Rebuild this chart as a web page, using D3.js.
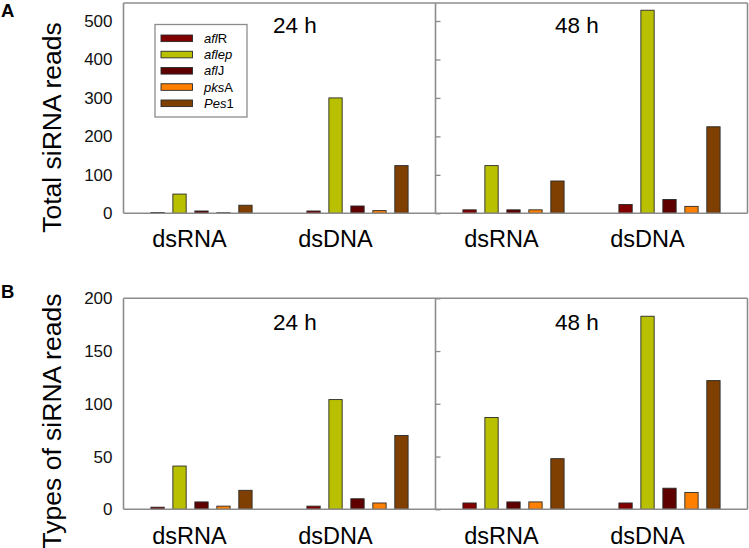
<!DOCTYPE html>
<html>
<head>
<meta charset="utf-8">
<script src="https://cdn.jsdelivr.net/npm/d3@7"></script>
<style>
  html, body { margin: 0; padding: 0; background: #fff; }
  svg { display: block; font-family: "Liberation Sans", Arial, sans-serif; }
</style>
</head>
<body>
<svg id="chart" width="749" height="548"></svg>
<script>
// ---------- data ----------
const genes = ["aflR", "aflep", "aflJ", "pksA", "Pes1"];
const geneItalicPart = ["afl", "aflep", "afl", "pks", "Pes"];
const geneRomanPart = ["R", "", "J", "A", "1"];
const geneColors = ["#800000", "#b9c000", "#5e0000", "#ff8000", "#7e3f00"];
const treatments = ["dsRNA", "dsDNA"];
const times = ["24 h", "48 h"];

// Total siRNA reads (panel A)
const totalReads24h_dsRNA = [2, 50, 6, 1.5, 21];
const totalReads24h_dsDNA = [6, 300, 19, 7, 124];
const totalReads48h_dsRNA = [9, 124, 9, 9, 84];
const totalReads48h_dsDNA = [23, 528, 36, 18, 225];
const totalTicks = [0, 100, 200, 300, 400, 500];

// Types of siRNA reads (panel B)
const typeReads24h_dsRNA = [2, 41, 7, 3, 18];
const typeReads24h_dsDNA = [3, 104, 10, 6, 70];
const typeReads48h_dsRNA = [6, 87, 7, 7, 48];
const typeReads48h_dsDNA = [6, 183, 20, 16, 122];
const typeTicks = [0, 50, 100, 150, 200];

// ---------- layout ----------
const svg = d3.select("#chart");
const plotLeft = 123.5, plotRight = 747.5;
const frameColor = "#8c8c8c";

const xPanel = d3.scaleBand().domain(times).range([plotLeft, plotRight]).padding(0);
const xGroup = d3.scaleBand().domain(treatments).range([0, xPanel.bandwidth()]).padding(0);
const xBar = d3.scaleBand().domain(genes).range([-50.6, 50.6]).paddingInner(0.395).paddingOuter(0);
const xLabel = d3.scalePoint().domain(treatments).range([66, 212]);

function drawPanel(cfg) {
  const g = svg.append("g");
  const y = d3.scaleLinear().domain(cfg.domain).range(cfg.range);
  const yTop = cfg.frameTop;
  const yBottom = y(0);

  // bars
  times.forEach((t, ti) => {
    treatments.forEach((tr, ri) => {
      const vals = cfg.data[ti][ri];
      const cx = xPanel(t) + xGroup(tr) + xGroup.bandwidth() / 2;
      g.selectAll(null).data(vals).enter().append("rect")
        .attr("x", (d, i) => cx + xBar(genes[i]))
        .attr("y", d => y(d))
        .attr("width", xBar.bandwidth())
        .attr("height", d => yBottom - y(d))
        .attr("fill", (d, i) => geneColors[i])
        .attr("stroke", "#2a2a2a")
        .attr("stroke-width", 0.9);
    });
  });

  // frame
  const fr = g.append("g").attr("stroke", frameColor).attr("stroke-width", 1.6).attr("fill", "none");
  fr.append("line").attr("x1", plotLeft).attr("x2", plotRight).attr("y1", yTop).attr("y2", yTop);
  fr.append("line").attr("x1", plotLeft).attr("x2", plotRight).attr("y1", yBottom).attr("y2", yBottom);
  fr.append("line").attr("x1", plotLeft).attr("x2", plotLeft).attr("y1", yTop).attr("y2", yBottom);
  fr.append("line").attr("x1", plotRight).attr("x2", plotRight).attr("y1", yTop).attr("y2", yBottom);

  // left axis labels
  const axL = g.append("g").attr("transform", `translate(${plotLeft},0)`)
    .call(d3.axisLeft(y).tickValues(cfg.ticks).tickSize(0).tickPadding(11).tickFormat(d3.format("d")));
  axL.select(".domain").remove();
  axL.selectAll("text").attr("font-size", 17).attr("fill", "#111")
    .attr("font-family", "'Liberation Sans', Arial, sans-serif");

  // divider with inner ticks
  const xDiv = xPanel(times[1]);
  const axD = g.append("g").attr("transform", `translate(${xDiv},0)`)
    .call(d3.axisRight(y).tickValues(cfg.ticks).tickSize(5).tickFormat(""));
  axD.select(".domain").remove();
  axD.selectAll("line").attr("stroke", frameColor).attr("stroke-width", 1.3);
  g.append("line").attr("x1", xDiv).attr("x2", xDiv).attr("y1", yTop).attr("y2", yBottom)
    .attr("stroke", frameColor).attr("stroke-width", 1.6);

  // time labels
  times.forEach((t, ti) => {
    g.append("text")
      .attr("x", xPanel(t) + cfg.timeOffsets[ti])
      .attr("y", cfg.timeBaseline)
      .attr("text-anchor", "middle")
      .attr("font-size", 22.5)
      .attr("fill", "#000")
      .text(t);
    treatments.forEach(tr => {
      g.append("text")
        .attr("x", xPanel(t) + xLabel(tr))
        .attr("y", cfg.catBaseline)
        .attr("text-anchor", "middle")
        .attr("font-size", 23.5)
        .attr("fill", "#000")
        .text(tr);
    });
  });

  // y title
  g.append("text")
    .attr("transform", `translate(61,${cfg.titleCenter}) rotate(-90)`)
    .attr("text-anchor", "middle")
    .attr("font-size", 26.5)
    .attr("fill", "#000")
    .text(cfg.title);

  // panel letter
  g.append("text")
    .attr("x", 1).attr("y", cfg.letterBaseline)
    .attr("font-size", 18.5).attr("font-weight", "bold")
    .attr("fill", "#000")
    .text(cfg.letter);
}

drawPanel({
  data: [[totalReads24h_dsRNA, totalReads24h_dsDNA], [totalReads48h_dsRNA, totalReads48h_dsDNA]],
  domain: [0, 500], range: [213.3, 21], frameTop: 3, ticks: totalTicks,
  timeOffsets: [171.5, 141.5], timeBaseline: 33, catBaseline: 247,
  title: "Total siRNA reads", titleCenter: 127.5, letter: "A", letterBaseline: 16.5
});

drawPanel({
  data: [[typeReads24h_dsRNA, typeReads24h_dsDNA], [typeReads48h_dsRNA, typeReads48h_dsDNA]],
  domain: [0, 200], range: [509.3, 298.3], frameTop: 298.3, ticks: typeTicks,
  timeOffsets: [171.5, 141.5], timeBaseline: 329.5, catBaseline: 544,
  title: "Types of siRNA reads", titleCenter: 421, letter: "B", letterBaseline: 298
});

// ---------- legend ----------
const leg = svg.append("g");
leg.append("rect").attr("x", 155).attr("y", 24.5).attr("width", 92).attr("height", 92.5)
  .attr("fill", "#fff").attr("stroke", "#8c8c8c").attr("stroke-width", 1.3);
const legY = d3.scalePoint().domain(genes).range([38.3, 103.3]);
genes.forEach((gname, i) => {
  leg.append("rect")
    .attr("x", 161).attr("y", legY(gname) - 3.3)
    .attr("width", 31.5).attr("height", 6.6)
    .attr("fill", geneColors[i]).attr("stroke", "#2a2a2a").attr("stroke-width", 0.9);
  const t = leg.append("text")
    .attr("x", 204).attr("y", legY(gname) + 4.5)
    .attr("font-size", 13).attr("fill", "#000");
  t.append("tspan").attr("font-style", "italic").text(geneItalicPart[i]);
  if (geneRomanPart[i]) t.append("tspan").text(geneRomanPart[i]);
});
</script>
</body>
</html>
